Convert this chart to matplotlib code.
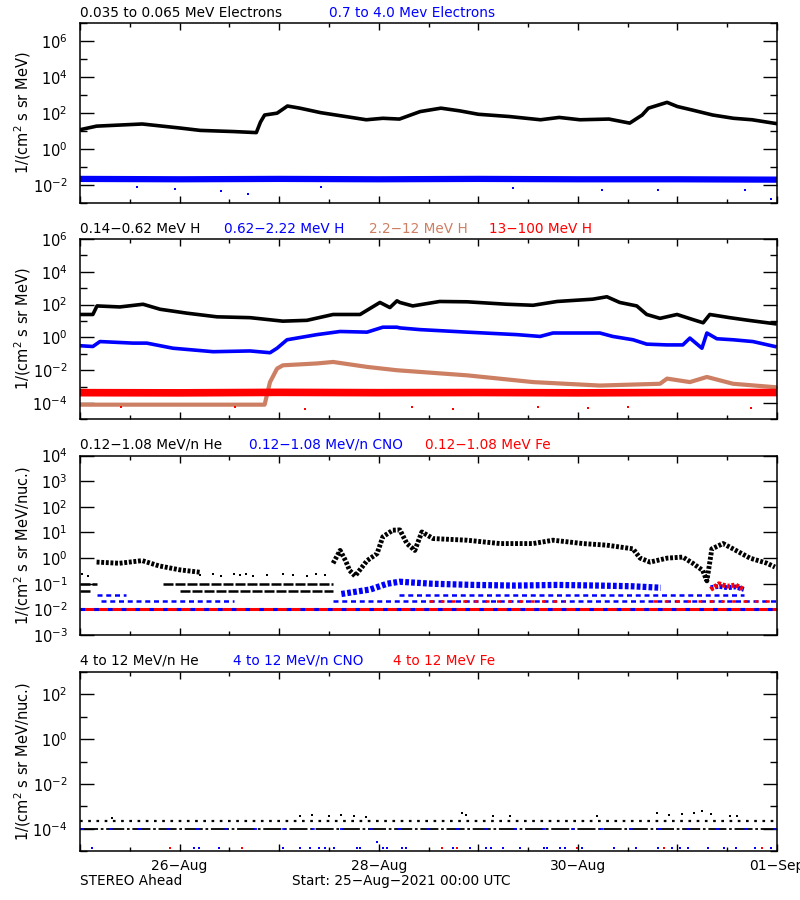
import numpy as np
import matplotlib
matplotlib.use('Agg')
import matplotlib.pyplot as plt
from matplotlib.ticker import FixedLocator, FuncFormatter, NullFormatter

plt.rcParams['font.family'] = ['DejaVu Sans']
plt.rcParams['mathtext.default'] = 'regular'

BLUE = '#0000ff'
RED = '#ff0000'
SALMON = '#cd7f63'

# ---------------- time axis (hours since 25-Aug-2021 00:00 UTC) ----------------
day_ticks = [24, 72, 120, 168]
day_labels = ['26\u2212Aug', '28\u2212Aug', '30\u2212Aug', '01\u2212Sep']

# ---------------- Panel 1 : electrons ----------------
elec_lo_t = [0, 4, 15, 24, 29, 37, 42.5, 43.5, 44.5, 47.5, 50, 53, 58, 65, 69, 73, 77, 82, 87,
             91.5, 96, 103.5, 111, 115.5, 120.5, 127.5, 132.5, 135.5, 137, 141.5, 144, 147.5,
             152.5, 157.5, 162, 168]
elec_lo_v = [12, 19, 25, 15, 11, 9.5, 8.3, 32, 79, 100, 250, 190, 107, 60, 43, 52, 47, 123, 190,
             135, 87, 65, 43, 58, 43, 47, 28, 79, 190, 400, 234, 151, 79, 52, 43, 26]
elec_hi_t = [0, 24, 48, 72, 96, 120, 144, 168]
elec_hi_v = [0.022, 0.021, 0.022, 0.021, 0.022, 0.021, 0.021, 0.020]
elec_hi_out_t = [13.7, 22.9, 34.1, 40.5, 58.2, 104.4, 125.7, 139.3, 160.3, 166.5]
elec_hi_out_v = [0.0083, 0.006, 0.0045, 0.0033, 0.008, 0.0065, 0.005, 0.005, 0.005, 0.0017]

# ---------------- Panel 2 : protons ----------------
h1_t = [0.2, 3.1, 4.1, 9.6, 15.2, 19.3, 25.8, 33, 41, 48.9, 54.7, 61, 67.5, 72.3, 74.7, 76.4,
        77.1, 80.2, 86.7, 93.3, 102.9, 109.2, 115, 123.6, 127, 130.1, 134.2, 136.6, 139.8,
        143.9, 147.7, 150.2, 151.8, 156.6, 161.5, 167.5]
h1_v = [25, 25, 83, 72, 105, 52, 30, 18, 16, 9.8, 11, 25, 25, 135, 66, 170, 135, 83, 155, 148,
        105, 91, 155, 214, 300, 135, 83, 25, 14.5, 25, 12.3, 7.8, 25, 16, 10.7, 6.8]
h2_t = [0.2, 3.1, 4.8, 12.8, 16.1, 22.4, 32.1, 41, 45.8, 47.5, 49.9, 57.1, 62.7, 69.2, 73, 76.4,
        77.1, 81.9, 93.3, 105.3, 110.9, 114, 125.3, 128.4, 133.3, 136.6, 141.5, 145.3, 147,
        149.9, 151.1, 153.5, 157.4, 162.2, 167.5]
h2_v = [0.31, 0.28, 0.56, 0.45, 0.45, 0.22, 0.135, 0.15, 0.117, 0.22, 0.72, 1.48, 2.3, 2.1, 4.2,
        4.2, 3.8, 3.0, 2.1, 1.48, 1.15, 1.86, 1.86, 1.15, 0.72, 0.39, 0.35, 0.35, 0.91, 0.22,
        1.86, 0.83, 0.72, 0.56, 0.28]
h3_t = [0, 10, 20, 30, 40, 44.5, 45.8, 47.5, 48.9, 57.1, 61, 69.2, 76.4, 93.3, 109.2, 125.3,
        139.8, 141.5, 147, 151.1, 157.4, 167.5]
h3_v = [8e-5, 8e-5, 8e-5, 8e-5, 8e-5, 8e-5, 1.9e-3, 1.26e-2, 2.0e-2, 2.6e-2, 3.2e-2, 1.6e-2,
        1.0e-2, 4.9e-3, 1.9e-3, 1.17e-3, 1.5e-3, 3.1e-3, 1.9e-3, 3.9e-3, 1.5e-3, 9.3e-4]
h4_t = [0, 24, 48, 72, 96, 120, 144, 168]
h4_v = [4.3e-4, 4.2e-4, 4.5e-4, 4.3e-4, 4.4e-4, 4.2e-4, 4.4e-4, 4.4e-4]
h4_out_t = [10, 37.4, 54.2, 80, 90, 110.5, 122.5, 132, 161.7]
h4_out_v = [5.6e-5, 5.6e-5, 4.4e-5, 5.6e-5, 4.5e-5, 5.6e-5, 5.3e-5, 5.6e-5, 5.3e-5]

# ---------------- Panel 3 : 0.12-1.08 MeV/n ions ----------------
he_early_t = [4, 9.5, 15, 19, 24, 29]
he_early_v = [0.7, 0.63, 0.8, 0.5, 0.35, 0.28]
he_sparse_t = [0.5, 2, 29, 32, 34, 37, 38.5, 40, 41.7, 45, 49, 51.3, 54.7, 57, 59]
he_sparse_v = [0.25, 0.2, 0.22, 0.25, 0.2, 0.24, 0.22, 0.25, 0.2, 0.22, 0.25, 0.22, 0.2, 0.24, 0.22]
he_late_t = [61, 62.7, 64, 65, 66.3, 69.2, 71.6, 73, 75.4, 77.1, 78.8, 80.7, 82.4, 85.1, 93.3,
             101.2, 109.2, 114, 121.2, 127, 133.3, 135, 137.4, 141.5, 145.3, 147.7, 150.1, 151.1,
             152.3, 155, 157.4, 161.5, 165.6, 167.5]
he_late_v = [0.63, 2.0, 0.8, 0.33, 0.2, 0.8, 1.5, 6.8, 12.3, 12.6, 3.7, 2.0, 10.5, 5.8, 5.0, 3.7,
             3.7, 5.0, 3.7, 3.2, 2.3, 1.0, 0.7, 1.0, 1.1, 0.63, 0.33, 0.13, 2.3, 3.7, 2.3, 1.0,
             0.63, 0.45]
he_row_v = [0.1, 0.1, 0.05, 0.05]
he_row_t0 = [0, 20, 0, 24]
he_row_t1 = [4, 61, 3, 61]
cno_cloud_t = [63, 70, 74, 77, 85, 95, 105, 115, 125, 133, 140]
cno_cloud_v = [0.04, 0.06, 0.1, 0.12, 0.1, 0.09, 0.085, 0.09, 0.085, 0.08, 0.07]
cno_cloud2_t = [152, 154, 156, 158, 160]
cno_cloud2_v = [0.07, 0.08, 0.07, 0.075, 0.06]
cno_row_v = [0.022, 0.022, 0.035, 0.035]
cno_row_t0 = [5, 61, 4, 77]
cno_row_t1 = [37, 168, 11, 160]
fe_cloud_t = [152, 154, 156, 158, 160]
fe_cloud_v = [0.06, 0.1, 0.08, 0.09, 0.06]
fe_row_v = [0.022, 0.022]
fe_row_t0 = [84, 138]
fe_row_t1 = [117, 168]
ion_base_v = 0.01

# ---------------- Panel 4 : 4-12 MeV/n ions ----------------
he4_base_v = 1e-4
he4_row_v = 2.1e-4
he4_up_t = [7.7, 53, 56, 60, 63, 66, 69, 92, 93, 99.6, 103.6, 124.6, 139, 142, 145, 148, 150,
            152, 156.7, 158.3]
he4_up_v = [3e-4, 3.5e-4, 4e-4, 3.5e-4, 4e-4, 3.5e-4, 3.2e-4, 5e-4, 4e-4, 3.5e-4, 3.5e-4,
            3.5e-4, 5e-4, 4e-4, 4.5e-4, 5e-4, 6e-4, 4.5e-4, 3.5e-4, 3.5e-4]
cno4_low_t = [3, 27.5, 28.7, 33.6, 49, 53, 55.4, 57.7, 59, 61.3, 66.7, 67.5, 73, 74, 77.5, 78.6,
              90, 94, 97.9, 99, 101.9, 106, 111.8, 112.5, 115.8, 116.9, 120.9, 128.7, 134, 139.4,
              142.6, 144.6, 146.6, 151.4, 155.2, 158.1, 162.7, 166.5]
cno4_low_v = [1.3e-5] * 38
cno4_mid_t = [71.5]
cno4_mid_v = [2.5e-5]
fe4_low_t = [21.7, 39, 87.2, 90.9, 119.7, 140.8, 164.3]
fe4_low_v = [1.3e-5] * 7

# ---------------- figure ----------------
fig = plt.figure(figsize=(8, 9), dpi=100)
W = 0.87125
rects = [[0.1, 0.7744, W, 0.1997],
         [0.1, 0.5339, W, 0.2006],
         [0.1, 0.2944, W, 0.1994],
         [0.1, 0.0544, W, 0.1989]]
ylims = [(-3, 7, 2), (-5, 6, 2), (-3, 4, 1), (-5, 3, 2)]
axes = []
for rect, (lo, hi, step) in zip(rects, ylims):
    ax = fig.add_axes(rect)
    ax.set_yscale('log')
    ax.set_ylim(10.0 ** lo, 10.0 ** hi)
    ax.set_xlim(0, 168)
    if step == 2:
        majors = [10.0 ** e for e in range(lo, hi + 1) if e % 2 == 0]
        minors = [10.0 ** e for e in range(lo, hi + 1) if e % 2 != 0]
    else:
        majors = [10.0 ** e for e in range(lo, hi + 1)]
        minors = []
    ax.yaxis.set_major_locator(FixedLocator(majors))
    ax.yaxis.set_minor_locator(FixedLocator(minors))
    ax.yaxis.set_major_formatter(FuncFormatter(
        lambda v, p: '$10^{%d}$' % int(round(np.log10(v)))))
    ax.yaxis.set_minor_formatter(NullFormatter())
    ax.xaxis.set_major_locator(FixedLocator(list(range(0, 169, 24))))
    ax.xaxis.set_minor_locator(FixedLocator(list(range(12, 169, 24))))
    ax.tick_params(axis='y', which='major', direction='in', length=10, width=1,
                   right=True, labelsize=10.5, pad=9)
    ax.tick_params(axis='y', which='minor', direction='in', length=5, width=1, right=True)
    ax.tick_params(axis='x', which='major', direction='in', length=5, width=1, top=True,
                   labelsize=10, pad=6)
    ax.tick_params(axis='x', which='minor', direction='in', length=3, width=1, top=True)
    ax.xaxis.set_major_formatter(NullFormatter())
    for s in ax.spines.values():
        s.set_linewidth(1.1)
    axes.append(ax)

ax1, ax2, ax3, ax4 = axes
DOT = (0.6, 0.35)

# panel 1
ax1.plot(elec_hi_t, elec_hi_v, color=BLUE, lw=4.5, solid_capstyle='butt')
ax1.plot(elec_hi_out_t, elec_hi_out_v, 's', color=BLUE, ms=1.8, mew=0)
ax1.plot(elec_lo_t, elec_lo_v, color='black', lw=2.6)

# panel 2
ax2.plot(h3_t, h3_v, color=SALMON, lw=3)
ax2.plot(h4_t, h4_v, color=RED, lw=5.5, solid_capstyle='butt')
ax2.plot(h4_out_t, h4_out_v, 's', color=RED, ms=1.8, mew=0)
ax2.plot(h2_t, h2_v, color=BLUE, lw=2.6)
ax2.plot(h1_t, h1_v, color='black', lw=2.6)

# panel 3
ax3.plot([0, 168], [ion_base_v, ion_base_v], color=RED, lw=2.2, solid_capstyle='butt')
ax3.plot([0, 168], [ion_base_v, ion_base_v], color=BLUE, lw=2.2, dashes=(1.5, 3))
for v, t0, t1 in zip(cno_row_v, cno_row_t0, cno_row_t1):
    ax3.plot([t0, t1], [v, v], color=BLUE, lw=1.8, dashes=(2, 1.5))
for v, t0, t1 in zip(fe_row_v, fe_row_t0, fe_row_t1):
    ax3.plot([t0, t1], [v, v], color=RED, lw=1.8, dashes=(1.5, 3))
for v, t0, t1 in zip(he_row_v, he_row_t0, he_row_t1):
    ax3.plot([t0, t1], [v, v], color='black', lw=1.8, dashes=(4, 0.8))
ax3.plot(cno_cloud_t, cno_cloud_v, color=BLUE, lw=4.5, dashes=DOT)
ax3.plot(cno_cloud2_t, cno_cloud2_v, color=BLUE, lw=3.5, dashes=DOT)
ax3.plot(fe_cloud_t, fe_cloud_v, color=RED, lw=3.5, dashes=DOT)
ax3.plot(he_sparse_t, he_sparse_v, 's', color='black', ms=2, mew=0)
ax3.plot(he_early_t, he_early_v, color='black', lw=3.5, dashes=DOT)
ax3.plot(he_late_t, he_late_v, color='black', lw=3.5, dashes=DOT)

# panel 4
ax4.plot([0, 168], [he4_base_v, he4_base_v], color='black', lw=1.3, dashes=(10, 1.5, 1.5, 1.5))
ax4.plot([0, 168], [he4_base_v, he4_base_v], color=BLUE, lw=1.3, dashes=(2, 14))
ax4.plot([0, 168], [he4_row_v, he4_row_v], color='black', lw=1.6, dashes=(1.2, 2.5))
ax4.plot(he4_up_t, he4_up_v, 's', color='black', ms=2, mew=0)
ax4.plot(cno4_low_t, cno4_low_v, 's', color=BLUE, ms=1.7, mew=0)
ax4.plot(cno4_mid_t, cno4_mid_v, 's', color=BLUE, ms=1.7, mew=0)
ax4.plot(fe4_low_t, fe4_low_v, 's', color=RED, ms=1.7, mew=0)

ax4.xaxis.set_major_formatter(FuncFormatter(
    lambda v, p: day_labels[day_ticks.index(int(round(v)))] if int(round(v)) in day_ticks else ''))

# titles
fs = 9.8
titles = [
    (0.9856, [(80, '0.035 to 0.065 MeV Electrons', 'black'), (329, '0.7 to 4.0 Mev Electrons', BLUE)]),
    (0.7456, [(80, '0.14-0.62 MeV H', 'black'), (224, '0.62-2.22 MeV H', BLUE),
              (369, '2.2-12 MeV H', SALMON), (489, '13-100 MeV H', RED)]),
    (0.5056, [(80, '0.12-1.08 MeV/n He', 'black'), (249, '0.12-1.08 MeV/n CNO', BLUE),
              (425, '0.12-1.08 MeV Fe', RED)]),
    (0.2656, [(80, '4 to 12 MeV/n He', 'black'), (233, '4 to 12 MeV/n CNO', BLUE),
              (393, '4 to 12 MeV Fe', RED)]),
]
for y, items in titles:
    for x, s, c in items:
        fig.text(x / 800, y, s.replace('-', '\u2212'), color=c, fontsize=fs, ha='left', va='center')

ylabels = ['1/(cm$^2$ s sr MeV)', '1/(cm$^2$ s sr MeV)',
           '1/(cm$^2$ s sr MeV/nuc.)', '1/(cm$^2$ s sr MeV/nuc.)']
for ax, lab in zip(axes, ylabels):
    ax.set_ylabel(lab, fontsize=10.5)
    ax.yaxis.set_label_coords(-0.068, 0.5)

fig.text(80 / 800, 1 - 881 / 900, 'STEREO Ahead', fontsize=fs, ha='left', va='center')
fig.text(292 / 800, 1 - 881 / 900, 'Start: 25\u2212Aug\u22122021 00:00 UTC', fontsize=fs,
         ha='left', va='center')

fig.savefig('out.png', dpi=100)
